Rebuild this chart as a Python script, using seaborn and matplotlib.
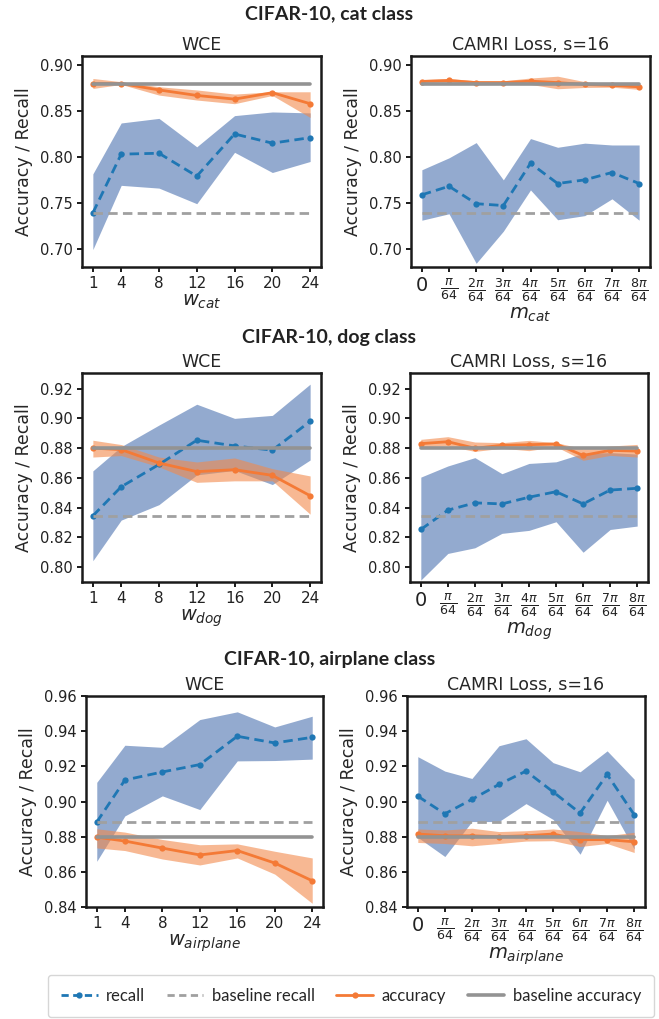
import numpy as np
import pandas as pd
import matplotlib
matplotlib.use("Agg")
import matplotlib.pyplot as plt
import seaborn as sns
from matplotlib.lines import Line2D

# ---------------- data ----------------
w_values = [1, 4, 8, 12, 16, 20, 24]
m_positions = [0, 1, 2, 3, 4, 5, 6, 7, 8]
m_labels = ["0"] + [r"$\frac{\pi}{64}$"] + [r"$\frac{%d\pi}{64}$" % k for k in range(2, 9)]

# cat class
cat_wce_recall = [0.739, 0.803, 0.804, 0.779, 0.825, 0.815, 0.821]
cat_wce_recall_hi = [0.7815, 0.837, 0.842, 0.811, 0.845, 0.849, 0.848]
cat_wce_recall_lo = [0.699, 0.769, 0.766, 0.749, 0.805, 0.783, 0.795]
cat_wce_acc = [0.880, 0.880, 0.873, 0.867, 0.863, 0.870, 0.858]
cat_wce_acc_hi = [0.8855, 0.882, 0.8765, 0.873, 0.8685, 0.871, 0.871]
cat_wce_acc_lo = [0.8746, 0.879, 0.8674, 0.862, 0.858, 0.867, 0.843]

cat_camri_recall = [0.7587, 0.768, 0.749, 0.747, 0.793, 0.771, 0.775, 0.783, 0.771]
cat_camri_recall_hi = [0.786, 0.799, 0.8156, 0.775, 0.820, 0.8105, 0.815, 0.813, 0.813]
cat_camri_recall_lo = [0.731, 0.738, 0.684, 0.719, 0.764, 0.7315, 0.736, 0.7543, 0.731]
cat_camri_acc = [0.8822, 0.8833, 0.881, 0.881, 0.8826, 0.881, 0.879, 0.878, 0.8764]
cat_camri_acc_hi = [0.8844, 0.8855, 0.883, 0.883, 0.886, 0.888, 0.882, 0.880, 0.880]
cat_camri_acc_lo = [0.880, 0.881, 0.8786, 0.879, 0.879, 0.8743, 0.8757, 0.876, 0.8736]
cat_base_recall = 0.739
cat_base_acc = 0.8795

# dog class
dog_wce_recall = [0.8345, 0.854, 0.869, 0.8853, 0.8815, 0.8786, 0.898]
dog_wce_recall_hi = [0.8647, 0.881, 0.8955, 0.9095, 0.900, 0.902, 0.923]
dog_wce_recall_lo = [0.8043, 0.8316, 0.842, 0.862, 0.865, 0.8555, 0.872]
dog_wce_acc = [0.880, 0.879, 0.870, 0.8642, 0.8655, 0.8617, 0.848]
dog_wce_acc_hi = [0.8853, 0.8824, 0.874, 0.8707, 0.8734, 0.8662, 0.8613]
dog_wce_acc_lo = [0.874, 0.875, 0.8674, 0.857, 0.858, 0.858, 0.8356]

dog_camri_recall = [0.8253, 0.8383, 0.8432, 0.8425, 0.847, 0.8507, 0.8425, 0.8518, 0.853]
dog_camri_recall_hi = [0.8605, 0.868, 0.8736, 0.8628, 0.8697, 0.8708, 0.8765, 0.877, 0.876]
dog_camri_recall_lo = [0.7913, 0.8092, 0.813, 0.8227, 0.8247, 0.8305, 0.810, 0.8253, 0.8276]
dog_camri_acc = [0.883, 0.8843, 0.8799, 0.8819, 0.8823, 0.8828, 0.8751, 0.8785, 0.878]
dog_camri_acc_hi = [0.8859, 0.8877, 0.8841, 0.8837, 0.8852, 0.8837, 0.8796, 0.8814, 0.8825]
dog_camri_acc_lo = [0.881, 0.8814, 0.8778, 0.8799, 0.8783, 0.881, 0.8718, 0.8751, 0.874]
dog_base_recall = 0.8345
dog_base_acc = 0.8798

# airplane class
air_wce_recall = [0.8883, 0.9122, 0.9168, 0.921, 0.9371, 0.9333, 0.9365]
air_wce_recall_hi = [0.9109, 0.932, 0.9308, 0.9466, 0.951, 0.9424, 0.9485]
air_wce_recall_lo = [0.866, 0.8918, 0.9032, 0.8954, 0.9231, 0.9233, 0.9241]
air_wce_acc = [0.8797, 0.8775, 0.8735, 0.8696, 0.8721, 0.865, 0.8549]
air_wce_acc_hi = [0.8845, 0.8826, 0.8784, 0.8754, 0.8759, 0.8717, 0.8679]
air_wce_acc_lo = [0.8736, 0.8721, 0.8673, 0.8639, 0.8679, 0.8587, 0.8421]

air_camri_recall = [0.903, 0.893, 0.9012, 0.9097, 0.9173, 0.9055, 0.8934, 0.9154, 0.8925]
air_camri_recall_hi = [0.9255, 0.9173, 0.9131, 0.9317, 0.9357, 0.9221, 0.9169, 0.9288, 0.9127]
air_camri_recall_lo = [0.8796, 0.8687, 0.8886, 0.8886, 0.8988, 0.8898, 0.870, 0.9007, 0.8729]
air_camri_acc = [0.8815, 0.8805, 0.8805, 0.880, 0.8805, 0.8815, 0.8783, 0.8783, 0.8771]
air_camri_acc_hi = [0.8844, 0.8838, 0.8848, 0.8829, 0.8834, 0.8844, 0.8829, 0.8806, 0.8825]
air_camri_acc_lo = [0.8767, 0.8761, 0.8748, 0.8761, 0.8775, 0.8777, 0.8744, 0.8761, 0.871]
air_base_recall = 0.8886
air_base_acc = 0.8796

row_titles = ["CIFAR-10, cat class", "CIFAR-10, dog class", "CIFAR-10, airplane class"]
class_names = ["cat", "dog", "airplane"]
panel_titles = ["WCE", "CAMRI Loss, s=16"]

# ---------------- style ----------------
sns.set_theme(style="ticks")
plt.rcParams["font.family"] = ["DejaVu Sans"]
plt.rcParams["axes.linewidth"] = 1.8
plt.rcParams["xtick.major.width"] = 1.4
plt.rcParams["ytick.major.width"] = 1.4
plt.rcParams["xtick.major.size"] = 3.5
plt.rcParams["ytick.major.size"] = 3.5
plt.rcParams["xtick.major.pad"] = 3
plt.rcParams["ytick.major.pad"] = 3
plt.rcParams["axes.edgecolor"] = "#1a1a1a"

C_RECALL = "#1f77b4"
C_RECALL_BAND = "#4c72b0"
C_ACC = "#f47a36"
C_ACC_BAND = "#f28a4c"
C_BASE_R = "#a0a0a0"
C_BASE_A = "#939393"
DASH = (0, (3.4, 1.9))

W, H = 659, 1019
fig = plt.figure(figsize=(W / 100, H / 100), dpi=100)

def ax_rect(x0, x1, y0, y1):
    return [x0 / W, 1 - y1 / H, (x1 - x0) / W, (y1 - y0) / H]

rects = [
    [ax_rect(82, 321, 56, 267), ax_rect(411, 650, 56, 267)],
    [ax_rect(82, 321, 373, 582), ax_rect(410, 648, 373, 582)],
    [ax_rect(86, 323, 696, 907), ax_rect(407, 645, 696, 907)],
]
title_y = [14, 337, 660]
ylims = [(0.680, 0.910), (0.790, 0.9305), (0.840, 0.960)]
yticks = [np.arange(0.70, 0.901, 0.05), np.arange(0.80, 0.921, 0.02), np.arange(0.84, 0.961, 0.02)]

datasets = [
    [(w_values, cat_wce_recall, cat_wce_recall_lo, cat_wce_recall_hi, cat_wce_acc, cat_wce_acc_lo, cat_wce_acc_hi),
     (m_positions, cat_camri_recall, cat_camri_recall_lo, cat_camri_recall_hi, cat_camri_acc, cat_camri_acc_lo, cat_camri_acc_hi)],
    [(w_values, dog_wce_recall, dog_wce_recall_lo, dog_wce_recall_hi, dog_wce_acc, dog_wce_acc_lo, dog_wce_acc_hi),
     (m_positions, dog_camri_recall, dog_camri_recall_lo, dog_camri_recall_hi, dog_camri_acc, dog_camri_acc_lo, dog_camri_acc_hi)],
    [(w_values, air_wce_recall, air_wce_recall_lo, air_wce_recall_hi, air_wce_acc, air_wce_acc_lo, air_wce_acc_hi),
     (m_positions, air_camri_recall, air_camri_recall_lo, air_camri_recall_hi, air_camri_acc, air_camri_acc_lo, air_camri_acc_hi)],
]
baselines = [(cat_base_recall, cat_base_acc), (dog_base_recall, dog_base_acc), (air_base_recall, air_base_acc)]

for r in range(3):
    fig.text(0.5, 1 - title_y[r] / H, row_titles[r], ha="center", va="center",
             fontsize=14, fontweight="bold", family=["Lato", "DejaVu Sans"], color="#222222")
    for c in range(2):
        ax = fig.add_axes(rects[r][c])
        x, rec, rlo, rhi, acc, alo, ahi = datasets[r][c]
        df = pd.DataFrame({"x": x, "recall": rec, "accuracy": acc})
        ax.fill_between(x, rlo, rhi, color=C_RECALL_BAND, alpha=0.6, linewidth=0)
        ax.fill_between(x, alo, ahi, color=C_ACC_BAND, alpha=0.6, linewidth=0)
        sns.lineplot(data=df, x="x", y="recall", ax=ax, color=C_RECALL, linestyle=DASH,
                     linewidth=2, marker="o", markersize=4.5, markeredgewidth=0)
        base_r, base_a = baselines[r]
        bdf = pd.DataFrame({"x": x, "br": [base_r] * len(x), "ba": [base_a] * len(x)})
        sns.lineplot(data=bdf, x="x", y="br", ax=ax, color=C_BASE_R, linestyle=DASH, linewidth=2)
        sns.lineplot(data=df, x="x", y="accuracy", ax=ax, color=C_ACC, linewidth=2,
                     marker="o", markersize=4.5, markeredgewidth=0)
        sns.lineplot(data=bdf, x="x", y="ba", ax=ax, color=C_BASE_A, linewidth=2.6)
        ax.set_ylim(*ylims[r])
        ax.set_yticks(yticks[r])
        ax.set_yticklabels(["%.2f" % v for v in yticks[r]], fontsize=10.5)
        if c == 0:
            ax.set_xticks(w_values)
            ax.set_xticklabels([str(v) for v in w_values], fontsize=11)
            ax.set_xlabel(r"$w_{%s}$" % class_names[r], fontsize=14, labelpad=1)
        else:
            ax.set_xticks(m_positions)
            ax.set_xticklabels(m_labels, fontsize=13)
            ax.get_xticklabels()[0].set_fontsize(14)
            ax.set_xlabel(r"$m_{%s}$" % class_names[r], fontsize=14, labelpad=1)
        ax.set_ylabel("Accuracy / Recall", fontsize=12.5, labelpad=5)
        ax.set_title(panel_titles[c], fontsize=12.5, pad=4)
        ax.tick_params(axis="both", colors="#1a1a1a", labelcolor="#222222")

handles = [
    Line2D([], [], color=C_RECALL, linestyle=(0, (2.6, 1.6)), linewidth=2, marker="o", markersize=4.5, markeredgewidth=0),
    Line2D([], [], color=C_BASE_R, linestyle=(0, (2.6, 1.6)), linewidth=2),
    Line2D([], [], color=C_ACC, linewidth=2, marker="o", markersize=4.5, markeredgewidth=0),
    Line2D([], [], color=C_BASE_A, linewidth=2.6),
]
labels = ["recall", "baseline recall", "accuracy", "baseline accuracy"]
leg = fig.legend(handles, labels, loc="center", bbox_to_anchor=(351 / W, 1 - 996 / H), ncol=4,
                 frameon=True, fancybox=True, prop={"family": ["Lato", "DejaVu Sans"], "size": 12},
                 borderpad=0.8, columnspacing=1.3, handlelength=2.2, handletextpad=0.5)
leg.get_frame().set_edgecolor("#cccccc")
leg.get_frame().set_linewidth(1.0)

fig.savefig("out.png", dpi=100)
